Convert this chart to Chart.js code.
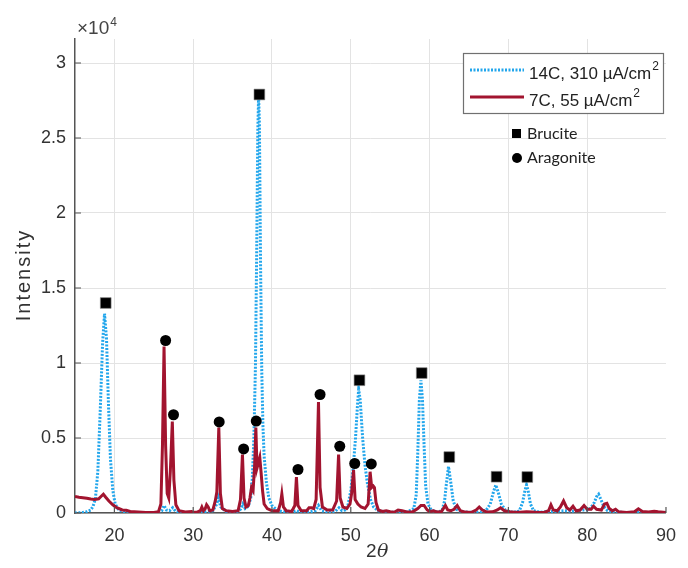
<!DOCTYPE html>
<html>
<head>
<meta charset="utf-8">
<script src="https://cdn.jsdelivr.net/npm/chart.js@4.4.1/dist/chart.umd.min.js"></script>
<style>
  body { margin: 0; background: #fff; }
  canvas { display: block; }
</style>
</head>
<body>
<canvas id="xrd" width="688" height="568"></canvas>
<script>
// 14C, 310 uA/cm2 (blue dotted)
var x14 = [15.0, 15.5, 16.0, 16.5, 17.0, 17.3, 17.6, 17.9, 18.2, 18.5, 18.75, 19.0, 19.25, 19.5, 19.8, 20.1, 20.5, 21.0, 21.5, 22.5, 24.0, 25.5, 26.0, 26.3, 26.6, 27.0, 27.4, 27.8, 28.5, 30.0, 31.5, 32.5, 33.0, 33.2, 33.5, 34.2, 35.5, 36.0, 36.3, 36.6, 37.0, 37.3, 37.5, 37.7, 37.9, 38.05, 38.2, 38.3, 38.4, 38.55, 38.7, 38.85, 39.0, 39.3, 39.6, 40.0, 40.5, 41.0, 41.5, 42.5, 43.1, 43.6, 44.5, 45.5, 45.9, 46.3, 47.0, 48.0, 48.5, 48.9, 49.3, 49.6, 50.0, 50.3, 50.6, 50.85, 51.0, 51.2, 51.5, 51.8, 52.1, 52.5, 52.9, 53.5, 54.5, 56.0, 57.2, 58.0, 58.3, 58.5, 58.7, 58.9, 59.1, 59.3, 59.5, 59.8, 60.2, 60.8, 61.3, 61.6, 61.9, 62.1, 62.4, 62.7, 63.0, 63.4, 64.0, 65.5, 66.5, 67.2, 67.7, 68.1, 68.4, 68.7, 69.1, 69.6, 70.3, 71.0, 71.4, 71.8, 72.1, 72.3, 72.5, 72.8, 73.2, 74.0, 75.5, 77.0, 78.0, 79.5, 80.0, 80.4, 80.9, 81.2, 81.45, 81.7, 82.1, 82.6, 83.5, 85.0, 87.0, 89.0, 90.0];
var y14 = [0, 10, 40, 90, 200, 450, 1000, 2800, 6800, 11300, 13300, 11600, 7200, 3600, 1500, 600, 250, 100, 60, 30, 20, 30, 150, 500, 200, 150, 350, 100, 30, 20, 50, 150, 600, 1000, 400, 100, 80, 250, 600, 300, 450, 1000, 2300, 5000, 9800, 17000, 25500, 27800, 26000, 16500, 9500, 5800, 3800, 2000, 1000, 500, 250, 130, 80, 50, 150, 50, 40, 150, 500, 150, 60, 100, 350, 150, 200, 400, 1500, 3000, 5000, 7200, 8250, 7500, 5000, 3200, 2000, 900, 400, 150, 60, 40, 80, 300, 1200, 4000, 7500, 8850, 7500, 4500, 1800, 600, 200, 80, 100, 200, 800, 1800, 3100, 2000, 800, 250, 80, 40, 60, 200, 600, 1400, 1870, 1400, 600, 200, 60, 60, 150, 700, 1500, 1870, 1500, 600, 150, 50, 100, 150, 120, 200, 200, 300, 700, 1100, 1250, 950, 450, 150, 60, 30, 40, 30, 30];

// 7C, 55 uA/cm2 (red solid)
var x7 = [15.0, 15.5, 16.0, 16.5, 17.0, 17.5, 18.0, 18.3, 18.6, 18.9, 19.3, 19.8, 20.3, 21.0, 21.5, 22.0, 23.0, 24.0, 25.0, 25.6, 25.9, 26.1, 26.3, 26.5, 26.7, 26.9, 27.1, 27.35, 27.55, 27.8, 28.2, 29.0, 29.8, 30.0, 30.5, 30.9, 31.1, 31.3, 31.5, 31.7, 31.9, 32.1, 32.5, 32.8, 33.0, 33.25, 33.45, 33.7, 34.2, 35.0, 35.7, 36.0, 36.25, 36.45, 36.7, 37.0, 37.2, 37.4, 37.6, 37.8, 37.95, 38.1, 38.25, 38.45, 38.6, 38.8, 39.0, 39.4, 40.0, 40.8, 41.1, 41.25, 41.45, 41.8, 42.5, 42.9, 43.1, 43.3, 43.7, 44.4, 44.7, 45.0, 45.3, 45.6, 45.9, 46.1, 46.4, 47.0, 47.7, 48.2, 48.45, 48.65, 49.0, 49.5, 49.9, 50.1, 50.35, 50.55, 50.9, 51.3, 51.8, 52.2, 52.45, 52.65, 52.85, 53.0, 53.2, 53.5, 54.0, 54.5, 55.0, 55.5, 56.0, 56.5, 57.0, 57.8, 58.5, 58.9, 59.3, 59.7, 60.0, 60.5, 61.0, 61.5, 62.0, 62.3, 62.7, 63.1, 63.5, 63.9, 64.5, 65.3, 65.9, 66.3, 66.7, 67.3, 68.0, 68.6, 69.0, 69.5, 70.2, 70.8, 71.5, 72.3, 73.0, 73.8, 74.5, 75.1, 75.4, 75.7, 76.2, 76.6, 77.0, 77.4, 77.8, 78.2, 78.6, 79.1, 79.6, 80.0, 80.5, 80.8, 81.2, 81.8, 82.2, 82.5, 82.8, 83.2, 83.6, 84.0, 85.0, 86.0, 86.5, 87.0, 87.8, 88.5, 89.0, 90.0];
var y7 = [1100, 1050, 1020, 980, 930, 900, 950, 1100, 1250, 1050, 800, 550, 350, 200, 180, 100, 70, 40, 40, 80, 600, 4500, 11100, 4500, 1300, 1000, 2800, 6100, 2200, 550, 150, 70, 100, 50, 60, 150, 400, 150, 250, 550, 400, 150, 200, 800, 1400, 5700, 1300, 300, 150, 100, 150, 900, 3900, 1000, 400, 500, 1000, 1700, 1500, 3200, 5700, 3000, 3300, 3700, 2800, 1500, 600, 300, 150, 150, 700, 1270, 400, 150, 100, 500, 2400, 500, 150, 150, 350, 350, 300, 900, 7400, 1700, 400, 200, 200, 800, 3900, 1000, 400, 300, 600, 1300, 2870, 900, 600, 400, 300, 600, 2750, 1700, 1800, 1700, 700, 200, 100, 150, 80, 50, 200, 150, 80, 60, 300, 500, 500, 200, 100, 150, 60, 100, 500, 200, 150, 250, 500, 150, 60, 40, 200, 400, 200, 60, 80, 200, 350, 150, 80, 50, 50, 80, 60, 40, 40, 150, 550, 200, 150, 400, 800, 350, 200, 450, 150, 200, 500, 250, 250, 450, 250, 200, 600, 650, 300, 150, 250, 80, 40, 80, 280, 100, 60, 120, 80, 40];

// phase markers
var brucX = [18.9, 38.4, 51.1, 59.0, 62.5, 68.5, 72.4];
var brucY = [14000, 27900, 8850, 9330, 3730, 2420, 2400];
var aragX = [26.5, 27.5, 33.3, 36.4, 38.0, 43.3, 46.1, 48.6, 50.5, 52.6];
var aragY = [11500, 6550, 6070, 4270, 6130, 2900, 7900, 4450, 3300, 3270];

var xTicks = [20, 30, 40, 50, 60, 70, 80, 90];
var yTicks = [0, 5000, 10000, 15000, 20000, 25000, 30000];
var yTickLabels = ['0', '0.5', '1', '1.5', '2', '2.5', '3'];

var blue = '#22a6ec';
var red = '#a2142f';
var axisColor = '#555555';
var textColor = '#333333';

function toPoints(xs, ys) {
    var pts = [];
    for (var i = 0; i < xs.length; i++) {
        pts.push({ x: xs[i], y: ys[i] });
    }
    return pts;
}

// draws ticks inside the axes, the x10^4 label, axis titles and the legend
var extras = {
    id: 'extras',
    afterDraw: function(chart) {
        var c = chart.ctx;
        var a = chart.chartArea;
        var xs = chart.scales.x, ys = chart.scales.y;
        c.save();

        // inward ticks
        c.strokeStyle = axisColor;
        c.lineWidth = 1.2;
        c.beginPath();
        xTicks.forEach(function(v) {
            var px = xs.getPixelForValue(v);
            c.moveTo(px, a.bottom);
            c.lineTo(px, a.bottom - 6);
        });
        yTicks.forEach(function(v) {
            var py = ys.getPixelForValue(v);
            c.moveTo(a.left, py);
            c.lineTo(a.left + 6, py);
        });
        c.stroke();

        // exponent
        c.fillStyle = '#444';
        c.textBaseline = 'alphabetic';
        c.textAlign = 'left';
        c.font = '19px "Liberation Sans", Arial, sans-serif';
        c.fillText('\u00d710', 77, 34);
        var we = c.measureText('\u00d710').width;
        c.font = '12px "Liberation Sans", Arial, sans-serif';
        c.fillText('4', 77 + we + 1, 26);

        // y title
        c.fillStyle = textColor;
        c.save();
        c.translate(24, 275);
        c.rotate(-Math.PI / 2);
        c.textAlign = 'center';
        c.textBaseline = 'middle';
        c.font = '20px "Liberation Sans", Arial, sans-serif';
        c.letterSpacing = '2px';
        c.fillText('Intensity', 0, 0);
        c.restore();

        // x title
        c.textAlign = 'left';
        c.textBaseline = 'alphabetic';
        c.font = '19px "Liberation Sans", Arial, sans-serif';
        c.fillText('2', 366, 557);
        c.font = 'italic 19px "DejaVu Serif", serif';
        c.fillText('\u03b8', 377, 557);

        // legend box
        c.fillStyle = '#fff';
        c.fillRect(463, 53, 200, 60);
        c.strokeStyle = '#707070';
        c.lineWidth = 1.2;
        c.strokeRect(463.5, 53.5, 200, 60);

        c.lineWidth = 3;
        c.strokeStyle = blue;
        c.setLineDash([2, 1.5]);
        c.beginPath(); c.moveTo(470, 70); c.lineTo(524, 70); c.stroke();
        c.setLineDash([]);
        c.strokeStyle = red;
        c.beginPath(); c.moveTo(470, 97); c.lineTo(524, 97); c.stroke();

        c.fillStyle = '#222';
        c.font = '17px "Liberation Sans", Arial, sans-serif';
        c.fillText('14C, 310 \u00b5A/cm', 529, 79);
        var w1 = c.measureText('14C, 310 \u00b5A/cm').width;
        c.fillText('7C, 55 \u00b5A/cm', 529, 106);
        var w2 = c.measureText('7C, 55 \u00b5A/cm').width;
        c.font = '12px "Liberation Sans", Arial, sans-serif';
        c.fillText('2', 529 + w1 + 1, 70);
        c.fillText('2', 529 + w2 + 1, 97);

        // phase key
        c.fillStyle = '#000';
        c.fillRect(512, 129, 9, 9);
        c.beginPath(); c.arc(517, 158, 5, 0, Math.PI * 2); c.fill();
        c.fillStyle = '#222';
        c.font = '16px Lato, "Open Sans", sans-serif';
        c.textBaseline = 'middle';
        c.fillText('Brucite', 527, 134);
        c.fillText('Aragonite', 527, 158);

        c.restore();
    }
};

var ctx = document.getElementById('xrd');
var chart = new Chart(ctx, {
    type: 'scatter',
    data: {
        datasets: [
            {
                label: 'Brucite',
                data: toPoints(brucX, brucY),
                pointStyle: 'rect',
                pointRadius: 7.6,
                backgroundColor: '#000',
                borderColor: '#888',
                borderWidth: 0.6
            },
            {
                label: 'Aragonite',
                data: toPoints(aragX, aragY),
                pointStyle: 'circle',
                pointRadius: 5.5,
                backgroundColor: '#000',
                borderColor: '#000',
                borderWidth: 0
            },
            {
                label: '7C, 55 \u00b5A/cm\u00b2',
                data: toPoints(x7, y7),
                showLine: true,
                pointRadius: 0,
                borderColor: red,
                borderWidth: 3,
                tension: 0
            },
            {
                label: '14C, 310 \u00b5A/cm\u00b2',
                data: toPoints(x14, y14),
                showLine: true,
                pointRadius: 0,
                borderColor: blue,
                borderWidth: 3,
                borderDash: [2, 1.5],
                tension: 0
            }
        ]
    },
    options: {
        responsive: false,
        animation: false,
        layout: { padding: { top: 39, right: 13, left: 0, bottom: 0 } },
        plugins: {
            legend: { display: false },
            tooltip: { enabled: false }
        },
        scales: {
            x: {
                type: 'linear',
                min: 15,
                max: 90,
                afterBuildTicks: function(s) { s.ticks = xTicks.map(function(v) { return { value: v }; }); },
                afterFit: function(s) { s.height = 55; },
                grid: {
                    color: function(c) { return c.tick && c.tick.value === 90 ? 'rgba(0,0,0,0)' : '#e3e3e3'; },
                    drawTicks: false
                },
                border: { color: axisColor, width: 1.5 },
                ticks: {
                    padding: 12,
                    color: textColor,
                    font: { family: '"Liberation Sans", Arial, sans-serif', size: 18 },
                    maxRotation: 0
                }
            },
            y: {
                min: 0,
                max: 31600,
                afterBuildTicks: function(s) { s.ticks = yTicks.map(function(v) { return { value: v }; }); },
                afterFit: function(s) { s.width = 75; },
                grid: { color: '#e3e3e3', drawTicks: false },
                border: { color: axisColor, width: 1.5 },
                ticks: {
                    padding: 9,
                    color: textColor,
                    font: { family: '"Liberation Sans", Arial, sans-serif', size: 18 },
                    callback: function(v) { return yTickLabels[yTicks.indexOf(v)]; }
                }
            }
        }
    },
    plugins: [extras]
});
</script>
</body>
</html>
